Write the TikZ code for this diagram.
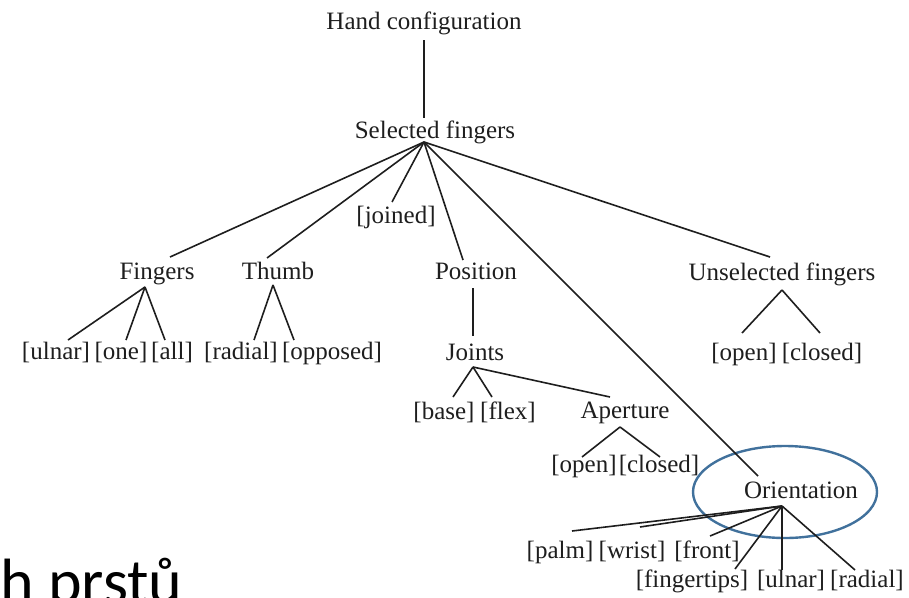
\documentclass[tikz,border=0pt]{standalone}
\usepackage{fontspec}
\usetikzlibrary{shapes.geometric}
\setmainfont{Liberation Serif}
\newfontfamily\slidefont{Carlito}
\definecolor{txt}{HTML}{1E1E1E}
\definecolor{ringblue}{HTML}{41719C}
\begin{document}
\begin{tikzpicture}[x=1pt,y=-1pt,
  lbl/.style={anchor=base,inner sep=0pt,text=txt,font=\fontsize{25}{30}\selectfont},
  edge/.style={draw=txt,line width=1.6pt},
  ring/.style={draw=ringblue,line width=2.4pt}]
\useasboundingbox (0,0) rectangle (909,597);
% labels
\node[lbl] (hand) at (424,29) {Hand configuration};
\node[lbl] (sel) at (435,138) {Selected fingers};
\node[lbl] (join) at (396,223) {[joined]};
\node[lbl] (fing) at (157,279) {Fingers};
\node[lbl] (thumb) at (278,279) {Thumb};
\node[lbl] (pos) at (476,279) {Position};
\node[lbl] (unsel) at (782,280) {Unselected fingers};
\node[lbl] (fulnar) at (56,359) {[ulnar]};
\node[lbl] (fone) at (121,359) {[one]};
\node[lbl] (fall) at (172,359) {[all]};
\node[lbl] (tradial) at (241,359) {[radial]};
\node[lbl] (topp) at (332,359) {[opposed]};
\node[lbl] (joints) at (475,360) {Joints};
\node[lbl] (uopen) at (744,360) {[open]};
\node[lbl] (uclosed) at (822,360) {[closed]};
\node[lbl] (jbase) at (444,419) {[base]};
\node[lbl] (jflex) at (508,419) {[flex]};
\node[lbl] (aper) at (625,418) {Aperture};
\node[lbl] (aopen) at (584,472) {[open]};
\node[lbl] (aclosed) at (659,472) {[closed]};
\node[lbl] (orient) at (801,498) {Orientation};
\node[lbl] (opalm) at (560,558) {[palm]};
\node[lbl] (owrist) at (632,558) {[wrist]};
\node[lbl] (ofront) at (707,558) {[front]};
\node[lbl] (otips) at (692,587) {[fingertips]};
\node[lbl] (oulnar) at (791,587) {[ulnar]};
\node[lbl] (oradial) at (867,587) {[radial]};
\node[anchor=base west,inner sep=0pt,font=\slidefont\fontsize{64}{66}\selectfont,text=black] (slide) at (0,603) {h prstů};
% ellipse
\node[ring,ellipse,minimum width=184pt,minimum height=92pt,inner sep=0pt] (ring) at (785,492) {};
% connector points
\coordinate (hand-b) at (424,40);
\coordinate (sel-t) at (424,118);
\coordinate (sel-b) at (424,142);
\coordinate (fing-t) at (170,257);
\coordinate (thumb-t) at (267,258);
\coordinate (join-t) at (392,202);
\coordinate (pos-t) at (463,260);
\coordinate (orient-t) at (758,476);
\coordinate (unsel-t) at (770,257);
\coordinate (fing-b) at (145,287);
\coordinate (fulnar-t) at (68,340);
\coordinate (fone-t) at (126,340);
\coordinate (fall-t) at (165,340);
\coordinate (thumb-b) at (273,285);
\coordinate (tradial-t) at (254,340);
\coordinate (topp-t) at (294,340);
\coordinate (pos-b) at (473,288);
\coordinate (joints-t) at (473,336);
\coordinate (joints-b) at (473,367);
\coordinate (jbase-t) at (453,397);
\coordinate (jflex-t) at (492,397);
\coordinate (aper-t) at (610,397);
\coordinate (aper-b) at (620,427);
\coordinate (aopen-t) at (582,457);
\coordinate (aclosed-t) at (660,457);
\coordinate (unsel-b) at (782,290);
\coordinate (uopen-t) at (742,333);
\coordinate (uclosed-t) at (820,333);
\coordinate (orient-b) at (782,506);
\coordinate (opalm-t) at (572,531);
\coordinate (owrist-t) at (640,527);
\coordinate (ofront-t) at (710,536);
\coordinate (otips-t) at (735,569);
\coordinate (oulnar-t) at (782,570);
\coordinate (oradial-t) at (855,570);
% connectors
\draw[edge] (hand-b) -- (sel-t);
\foreach \c in {fing-t,thumb-t,join-t,pos-t,orient-t,unsel-t}
  \draw[edge] (sel-b) -- (\c);
\foreach \c in {fulnar-t,fone-t,fall-t}
  \draw[edge] (fing-b) -- (\c);
\foreach \c in {tradial-t,topp-t}
  \draw[edge] (thumb-b) -- (\c);
\draw[edge] (pos-b) -- (joints-t);
\foreach \c in {jbase-t,jflex-t,aper-t}
  \draw[edge] (joints-b) -- (\c);
\foreach \c in {aopen-t,aclosed-t}
  \draw[edge] (aper-b) -- (\c);
\foreach \c in {uopen-t,uclosed-t}
  \draw[edge] (unsel-b) -- (\c);
\foreach \c in {opalm-t,owrist-t,ofront-t,otips-t,oulnar-t,oradial-t}
  \draw[edge] (orient-b) -- (\c);
\end{tikzpicture}
\end{document}
